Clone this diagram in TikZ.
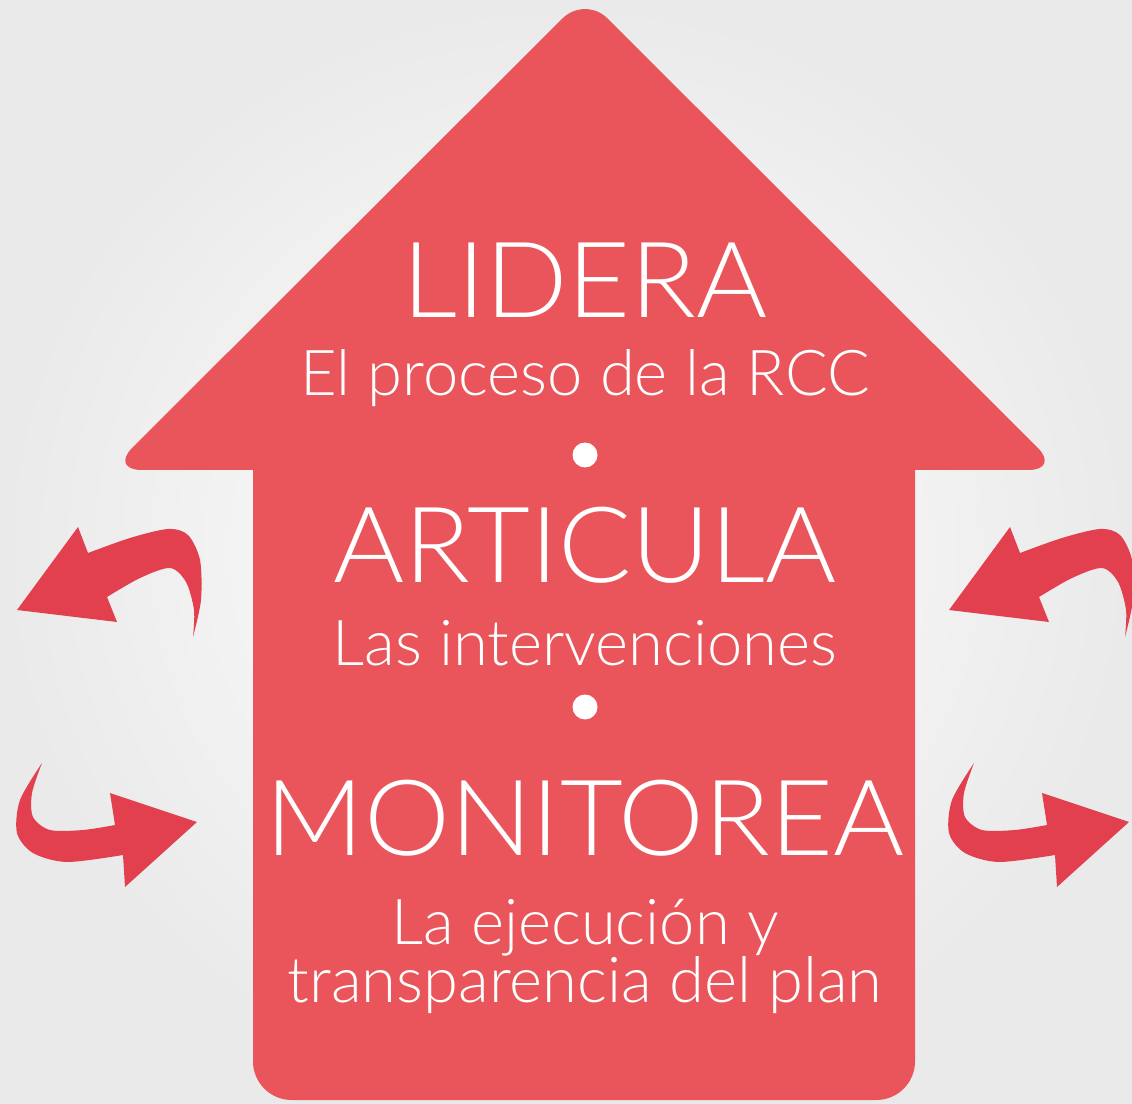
\documentclass[tikz,border=0pt]{standalone}
\usepackage{fontspec}
\setmainfont{Lato}[UprightFont={* Light}]
\newfontfamily\titlefont{Lato}[UprightFont={* Light},FakeStretch=1.03]
\newcommand\tightlines{\lineskiplimit=-30pt\relax}
\definecolor{housered}{HTML}{E9555A}
\definecolor{arrowred}{HTML}{E2404F}
\definecolor{bggray}{HTML}{EAEAEA}
\begin{document}
\begin{tikzpicture}[x=0.02cm,y=-0.02cm,
  title/.style={anchor=base,text=white,font=\titlefont\fontsize{60}{62}\selectfont,inner sep=0pt},
  subtitle/.style={anchor=base,text=white,font=\fontsize{36}{33}\selectfont\tightlines,inner sep=0pt,align=center},
  bullet/.style={circle,fill=white,minimum size=0.5cm,inner sep=0pt}]

\useasboundingbox (0,0) rectangle (1132,1104);
\shade[inner color=white,outer color=bggray] (0,0) rectangle (1132,1104);

%house:
\fill[housered,rounded corners=18pt] (585,-4) -- (1060,470) -- (110,470) -- cycle;
\fill[housered,rounded corners=22pt] (253,400) -- (253,1100) -- (915,1100) -- (915,400) -- cycle;

%texts:
\node[title]    (lidera)  at (585,318)  {LIDERA};
\node[subtitle] (sublid)  at (585,396)  {El proceso de la RCC};
\node[bullet]   (dotone)  at (585,455)  {};
\node[title]    (articula) at (585,582) {ARTICULA};
\node[subtitle] (subart)  at (585,665)  {Las intervenciones};
\node[bullet]   (dottwo)  at (585,707)  {};
\node[title]    (monitorea) at (585,855) {MONITOREA};
\node[subtitle] (submon)  at (585,1002) {La ejecución y\\transparencia del plan};

%arrows, left side then right side
\foreach \dx in {0,932}{
  \fill[arrowred,xshift=\dx*0.02cm] plot[smooth] coordinates {(193,637) (201,600) (200,560) (188,535) (168,529) (130,538) (88,553)}
      -- (78,527) -- (17,610) -- (117,622)
      -- plot[smooth] coordinates {(107,597) (140,578) (170,568) (186,582) (194,610) (193,637)} -- cycle;
  \fill[arrowred,xshift=\dx*0.02cm] plot[smooth] coordinates {(42,763) (20,800) (17,833) (33,853) (67,862) (123,855)}
      -- (125,887) -- (197,822) -- (110,793)
      -- plot[smooth] coordinates {(115,825) (83,830) (50,830) (33,817) (32,793) (42,763)} -- cycle;
}
\end{tikzpicture}
\end{document}
